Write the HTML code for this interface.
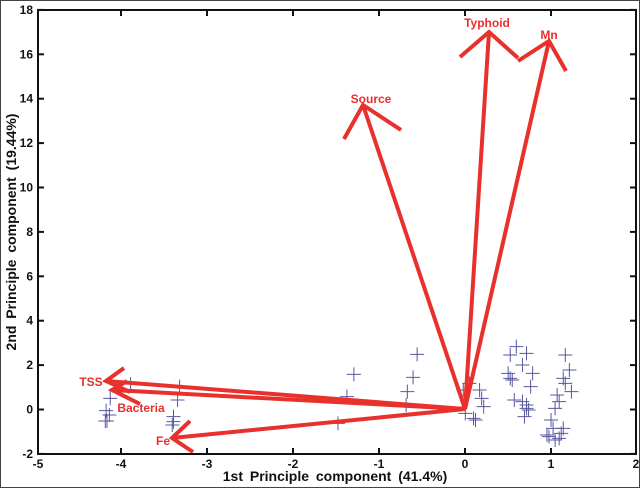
<!DOCTYPE html>
<html><head><meta charset="utf-8"><style>
body{margin:0;background:#fff}
svg{display:block}
text{font-family:"Liberation Sans",Arial,sans-serif;font-weight:bold}
</style></head><body>
<svg width="640" height="488" viewBox="0 0 640 488" xmlns="http://www.w3.org/2000/svg">
<rect x="0.5" y="0.5" width="639" height="487" fill="#fff" stroke="#444" stroke-width="1"/>
<g id="pts" stroke="#3a3a90" stroke-width="1" opacity="0.85"></g>
<g stroke="#e8302c" stroke-width="4" fill="none" stroke-linecap="butt" stroke-linejoin="miter">
<polyline points="465,409 489,32"/><polyline points="460,57 489,32 518,58"/>
<polyline points="465,409 549,41"/><polyline points="518,61 549,41 566,71"/>
<polyline points="465,409 363,105"/><polyline points="344,139 363,105 401,130"/>
<polyline points="465,409 106,381"/><polyline points="124,368 106,381 130,392"/>
<polyline points="465,409 112,390"/><polyline points="127,381 112,390 140,404"/>
<polyline points="465,409 172,438"/><polyline points="190,421 172,438 193,452"/>
</g>
<g fill="#e8302c" font-size="12" text-anchor="middle">
<text x="487" y="27">Typhoid</text>
<text x="549" y="39">Mn</text>
<text x="371" y="103">Source</text>
<text x="91" y="386">TSS</text>
<text x="141" y="412">Bacteria</text>
<text x="163" y="445">Fe</text>
</g>
<rect x="38" y="10" width="598" height="444" fill="none" stroke="#111" stroke-width="2"/>
<g id="ticks" stroke="#111" stroke-width="2"></g>
<g id="lbl" font-size="12" fill="#111"></g>
<text x="335" y="481" font-size="14" text-anchor="middle" fill="#111" word-spacing="3">1st Principle component (41.4%)</text>
<text transform="translate(16,232) rotate(-90)" font-size="14" text-anchor="middle" fill="#111" word-spacing="3">2nd Principle component (19.44%)</text>
</svg>
<script>
var ns="http://www.w3.org/2000/svg";
function el(p,t,a,txt){var e=document.createElementNS(ns,t);for(var k in a)e.setAttribute(k,a[k]);if(txt!==undefined)e.textContent=txt;document.getElementById(p).appendChild(e);}
var pts=[[262,243],[260,212],[270,175],[320,132],[258,243],[268,225],[435,180],[440,140],[425,245],[422,255],[425,230],[867,103],[850,170],[828,250],[1022,43],[1012,112],[998,155],[995,195],[1135,150],[1140,220],[1160,235],[1175,150],[1180,175],[1165,240],[1185,200],[1250,45],[1265,20],[1290,40],[1280,75],[1245,100],[1255,120],[1305,100],[1300,140],[1260,180],[1280,185],[1290,205],[1285,230],[1295,210],[1365,165],[1370,185],[1385,45],[1395,90],[1380,115],[1385,130],[1400,155],[1360,205],[1350,240],[1355,265],[1345,290],[1360,300],[1370,295],[1340,285],[1380,265],[1375,280],[1150,130],[1250,115],[1290,195]];
pts.forEach(function(p){var x=p[0]/2.45,y=340+p[1]/3;el("pts","path",{d:"M"+(x-7)+" "+y+"H"+(x+7)+"M"+x+" "+(y-7)+"V"+(y+7),fill:"none"});});
for(var v=-5;v<=2;v++){var x=465+86*v;if(x<38)x=38;if(x>636)x=636;
el("ticks","line",{x1:x,y1:454,x2:x,y2:448});el("ticks","line",{x1:x,y1:10,x2:x,y2:16});
el("lbl","text",{x:x,y:468,"text-anchor":"middle"},String(v));}
for(var v=-2;v<=18;v+=2){var y=409.5-22.2*v;
el("ticks","line",{x1:38,y1:y,x2:44,y2:y});el("ticks","line",{x1:636,y1:y,x2:630,y2:y});
el("lbl","text",{x:33,y:y+4,"text-anchor":"end"},String(v));}
</script>
</body></html>
